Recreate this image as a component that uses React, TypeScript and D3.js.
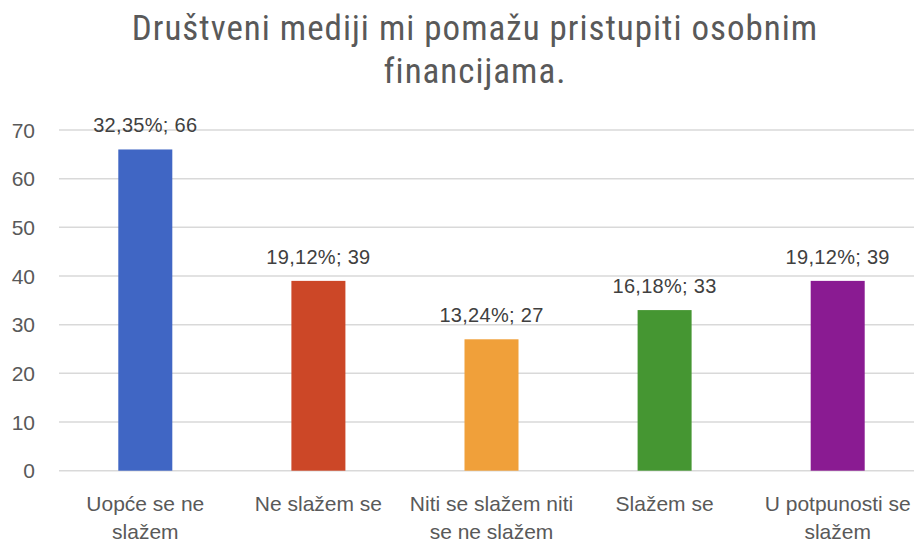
import React from "react";
import * as d3 from "d3";

const categories: string[][] = [
  ["Uopće se ne", "slažem"],
  ["Ne slažem se"],
  ["Niti se slažem niti", "se ne slažem"],
  ["Slažem se"],
  ["U potpunosti se", "slažem"],
];
const values = [66, 39, 27, 33, 39];
const percents = ["32,35%", "19,12%", "13,24%", "16,18%", "19,12%"];
const colors = ["#4066C4", "#CC4727", "#F0A03A", "#459632", "#8A1B92"];
const yTicks = [0, 10, 20, 30, 40, 50, 60, 70];
const titleLines = ["Društveni mediji mi pomažu pristupiti osobnim", "financijama."];

const W = 914;
const H = 542;
const font = "'Liberation Sans', Arial, sans-serif";

export default function App() {
  const x = d3.scaleBand<number>().domain(values.map((_, i) => i)).range([58.75, 924.25]).padding(0);
  const y = d3.scaleLinear().domain([0, 70]).range([470.7, 130]);
  const bw = x.bandwidth() * 0.312;
  const cx = (i: number) => (x(i) as number) + x.bandwidth() / 2;
  return (
    <svg width={W} height={H} style={{ position: "absolute", left: 0, top: 0, background: "#fff" }}>
      <rect width={W} height={H} fill="#fff" />
      {titleLines.map((t, i) => (
        <text key={i} x={475} y={40 + i * 43} textAnchor="middle" fontFamily="'Roboto Condensed', 'Liberation Sans Narrow', sans-serif" fontSize={35} letterSpacing={1} fill="#595959">{t}</text>
      ))}
      {yTicks.map((t) => (
        <g key={t}>
          <line x1={59} x2={W} y1={y(t)} y2={y(t)} stroke="#D9D9D9" strokeWidth={1.5} />
          <text x={35} y={y(t)} dy="0.36em" textAnchor="end" fontFamily={font} fontSize={21} fill="#595959">{t}</text>
        </g>
      ))}
      {values.map((v, i) => (
        <g key={i}>
          <rect x={cx(i) - bw / 2} y={y(v)} width={bw} height={y(0) - y(v)} fill={colors[i]} />
          <text x={cx(i)} y={y(v) - 17} textAnchor="middle" fontFamily={font} fontSize={20} letterSpacing={0.3} fill="#404040">{`${percents[i]}; ${v}`}</text>
          {categories[i].map((l, j) => (
            <text key={j} x={cx(i)} y={511 + j * 28} textAnchor="middle" fontFamily={font} fontSize={21} fill="#595959">{l}</text>
          ))}
        </g>
      ))}
    </svg>
  );
}
